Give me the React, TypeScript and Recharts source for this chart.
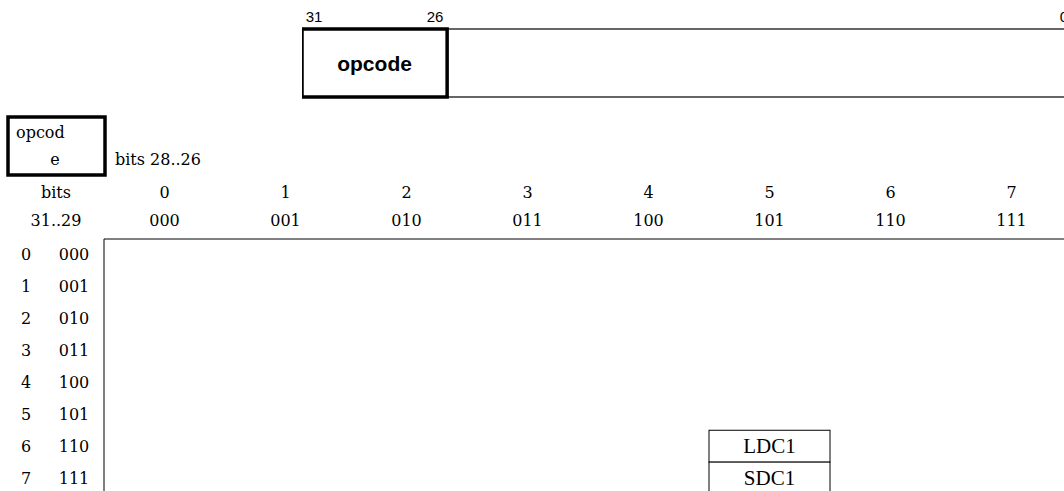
import { BarChart, Bar, XAxis, YAxis, ScatterChart, Scatter, Customized } from "recharts";

// instruction word, bits 31..0 (stacked from bit 0 on the right)
const fieldNames = ["rest", "opcode"];
const fieldWidths = [26, 6];
const fieldLabels = ["", "opcode"];
const bitTicks = [31, 26, 0];

// opcode map: columns = bits 28..26, rows = bits 31..29
const colValues = [0, 1, 2, 3, 4, 5, 6, 7];
const colBinary = ["000", "001", "010", "011", "100", "101", "110", "111"];
const rowValues = [0, 1, 2, 3, 4, 5, 6, 7];
const rowBinary = ["000", "001", "010", "011", "100", "101", "110", "111"];
const cellCols = [5, 5];
const cellRows = [6, 7];
const cellNames = ["LDC1", "SDC1"];

const SANS = "'Liberation Sans', Arial, sans-serif";
const SERIF = "'DejaVu Serif', serif";
const TIMES = "'Liberation Serif', 'Times New Roman', serif";

const wordRow = [
  { name: "word", ...Object.fromEntries(fieldNames.map((n, i) => [n, fieldWidths[i]])) },
];

const CH2_W = 1080;
const CH2_H = 500;
const Y_AXIS_W = 104;
const X_AXIS_H = 239;
const M_RIGHT = 8;
const M_BOTTOM = 6;
const CELL_W = (CH2_W - Y_AXIS_W - M_RIGHT) / colValues.length;
const CELL_H = (CH2_H - X_AXIS_H - M_BOTTOM) / rowValues.length;

const cells = cellNames.map((name, i) => ({ col: cellCols[i] + 0.5, row: cellRows[i] + 0.5, name }));

const FieldShape = (label: string) => (props: any) => {
  const { x, y, width, height } = props;
  const x0 = Math.min(x, x + width);
  const w = Math.abs(width);
  if (!label) {
    return (
      <g>
        <line x1={x0} x2={x0 + w} y1={y} y2={y} stroke="#333" strokeWidth={1.5} />
        <line x1={x0} x2={x0 + w} y1={y + height} y2={y + height} stroke="#333" strokeWidth={1.5} />
      </g>
    );
  }
  return (
    <g>
      <rect x={x0} y={y} width={w} height={height} fill="#fff" stroke="#000" strokeWidth={3.5} />
      <text x={x0 + w / 2} y={y + height / 2} textAnchor="middle" dominantBaseline="central"
        fontFamily={SANS} fontWeight="bold" fontSize={21} fill="#000">{label}</text>
    </g>
  );
};

const ColTick = (props: any) => {
  const { x, payload } = props;
  const i = Math.floor(payload.value);
  return (
    <g fontFamily={SERIF} fontSize={16} fill="#000" textAnchor="middle">
      <text x={x} y={X_AXIS_H - 47} dominantBaseline="central">{colValues[i]}</text>
      <text x={x} y={X_AXIS_H - 19} dominantBaseline="central">{colBinary[i]}</text>
    </g>
  );
};

const RowTick = (props: any) => {
  const { y, payload } = props;
  const i = Math.floor(payload.value);
  return (
    <g fontFamily={SERIF} fontSize={16} fill="#000" textAnchor="middle">
      <text x={26} y={y} dominantBaseline="central">{rowValues[i]}</text>
      <text x={74} y={y} dominantBaseline="central">{rowBinary[i]}</text>
    </g>
  );
};

const CellShape = (props: any) => {
  const { cx, cy, payload } = props;
  return (
    <g>
      <rect x={cx - CELL_W / 2} y={cy - CELL_H / 2} width={CELL_W} height={CELL_H} fill="#fff" stroke="#000" strokeWidth={1} />
      <text x={cx} y={cy} textAnchor="middle" dominantBaseline="central" fontFamily={TIMES} fontSize={21} fill="#000">
        {payload.name}
      </text>
    </g>
  );
};

const Corner = () => (
  <g fontFamily={SERIF} fontSize={16} fill="#000">
    <rect x={8} y={117} width={97} height={58} fill="#fff" stroke="#000" strokeWidth={3.5} />
    <text x={16} y={132} dominantBaseline="central">opcod</text>
    <text x={55} y={159} textAnchor="middle" dominantBaseline="central">e</text>
    <text x={115} y={159} dominantBaseline="central">bits 28..26</text>
    <text x={56} y={192} textAnchor="middle" dominantBaseline="central">bits</text>
    <text x={56} y={220} textAnchor="middle" dominantBaseline="central">31..29</text>
  </g>
);

export default function App() {
  return (
    <div style={{ position: "absolute", left: 0, top: 0, width: 1064, height: 491, overflow: "hidden", background: "#fff" }}>
      <div style={{ position: "absolute", left: 0, top: 0 }}>
        <BarChart width={1076} height={110} data={wordRow} layout="vertical" barCategoryGap={0}
          margin={{ top: 5, right: 0, bottom: 13, left: 302 }}>
          <XAxis type="number" domain={[0, 32]} reversed orientation="top" height={24}
            ticks={bitTicks.map((b) => b + 0.5)} tickFormatter={(v: number) => String(Math.floor(v))}
            axisLine={false} tickLine={false} tickSize={0} tickMargin={7}
            tick={{ fontFamily: SANS, fontSize: 15, fill: "#000" }} allowDataOverflow />
          <YAxis type="category" dataKey="name" hide />
          {fieldNames.map((n, i) => (
            <Bar key={n} dataKey={n} stackId="w" isAnimationActive={false} shape={FieldShape(fieldLabels[i])} />
          ))}
        </BarChart>
      </div>
      <div style={{ position: "absolute", left: 0, top: 0 }}>
        <ScatterChart width={CH2_W} height={CH2_H} margin={{ top: 0, right: M_RIGHT, bottom: M_BOTTOM, left: 0 }}>
          <XAxis type="number" dataKey="col" domain={[0, colValues.length]} orientation="top" height={X_AXIS_H}
            ticks={colValues.map((v) => v + 0.5)} tick={<ColTick />} tickLine={false}
            axisLine={{ stroke: "#000", strokeWidth: 1 }} />
          <YAxis type="number" dataKey="row" domain={[0, rowValues.length]} reversed width={Y_AXIS_W}
            ticks={rowValues.map((v) => v + 0.5)} tick={<RowTick />} tickLine={false}
            axisLine={{ stroke: "#000", strokeWidth: 1 }} />
          <Customized component={<Corner />} />
          <Scatter data={cells} isAnimationActive={false} shape={CellShape} />
        </ScatterChart>
      </div>
    </div>
  );
}
